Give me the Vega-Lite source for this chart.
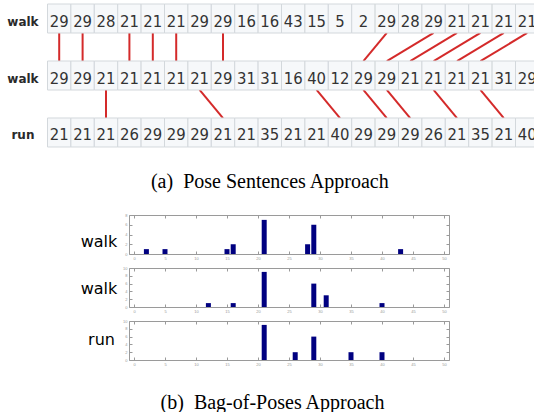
{
  "$schema": "https://vega.github.io/schema/vega-lite/v6.json",
  "padding": 0,
  "background": "white",
  "bounds": "flush",
  "spacing": 14,
  "config": {"view": {"stroke": null}, "axis": {"grid": false}},
  "datasets": {
    "cells": [
      {"row":0,"col":0,"v":29},{"row":0,"col":1,"v":29},{"row":0,"col":2,"v":28},{"row":0,"col":3,"v":21},{"row":0,"col":4,"v":21},{"row":0,"col":5,"v":21},{"row":0,"col":6,"v":29},{"row":0,"col":7,"v":29},{"row":0,"col":8,"v":16},{"row":0,"col":9,"v":16},{"row":0,"col":10,"v":43},{"row":0,"col":11,"v":15},{"row":0,"col":12,"v":5},{"row":0,"col":13,"v":2},{"row":0,"col":14,"v":29},{"row":0,"col":15,"v":28},{"row":0,"col":16,"v":29},{"row":0,"col":17,"v":21},{"row":0,"col":18,"v":21},{"row":0,"col":19,"v":21},{"row":0,"col":20,"v":21},
      {"row":1,"col":0,"v":29},{"row":1,"col":1,"v":29},{"row":1,"col":2,"v":21},{"row":1,"col":3,"v":21},{"row":1,"col":4,"v":21},{"row":1,"col":5,"v":21},{"row":1,"col":6,"v":21},{"row":1,"col":7,"v":29},{"row":1,"col":8,"v":31},{"row":1,"col":9,"v":31},{"row":1,"col":10,"v":16},{"row":1,"col":11,"v":40},{"row":1,"col":12,"v":12},{"row":1,"col":13,"v":29},{"row":1,"col":14,"v":29},{"row":1,"col":15,"v":21},{"row":1,"col":16,"v":21},{"row":1,"col":17,"v":21},{"row":1,"col":18,"v":21},{"row":1,"col":19,"v":31},{"row":1,"col":20,"v":29},
      {"row":2,"col":0,"v":21},{"row":2,"col":1,"v":21},{"row":2,"col":2,"v":21},{"row":2,"col":3,"v":26},{"row":2,"col":4,"v":29},{"row":2,"col":5,"v":29},{"row":2,"col":6,"v":29},{"row":2,"col":7,"v":21},{"row":2,"col":8,"v":21},{"row":2,"col":9,"v":35},{"row":2,"col":10,"v":21},{"row":2,"col":11,"v":21},{"row":2,"col":12,"v":40},{"row":2,"col":13,"v":29},{"row":2,"col":14,"v":29},{"row":2,"col":15,"v":29},{"row":2,"col":16,"v":26},{"row":2,"col":17,"v":21},{"row":2,"col":18,"v":35},{"row":2,"col":19,"v":21},{"row":2,"col":20,"v":40}
    ],
    "links": [
      {"gap":0,"from":0,"to":0},{"gap":0,"from":1,"to":1},{"gap":0,"from":3,"to":3},{"gap":0,"from":4,"to":4},{"gap":0,"from":5,"to":5},{"gap":0,"from":7,"to":7},{"gap":0,"from":14,"to":13},{"gap":0,"from":16,"to":14},{"gap":0,"from":17,"to":15},{"gap":0,"from":18,"to":16},{"gap":0,"from":19,"to":17},{"gap":0,"from":20,"to":18},
      {"gap":1,"from":2,"to":2},{"gap":1,"from":6,"to":7},{"gap":1,"from":11,"to":12},{"gap":1,"from":13,"to":14},{"gap":1,"from":14,"to":15},{"gap":1,"from":16,"to":17},{"gap":1,"from":18,"to":19}
    ],
    "labels": [{"row":0,"name":"walk"},{"row":1,"name":"walk"},{"row":2,"name":"run"}],
    "caption": [{"text":"(a)\u2002Pose Sentences Approach"}]
  },
  "vconcat": [
    {
      "width": 534,
      "height": 201,
      "layer": [
        {
          "data": {"name": "links"},
          "transform": [{"filter": "datum.gap == 0"}],
          "mark": {"type": "rule", "color": "#d42a2a", "strokeWidth": 2},
          "encoding": {
            "x": {"field": "from", "type": "quantitative", "scale": {"domain": [-2.53, 20.29], "nice": false, "zero": false}, "axis": null},
            "x2": {"field": "to"},
            "y": {"datum": 0.254, "type": "quantitative", "scale": {"domain": [-0.3246, 3.2018], "reverse": true, "nice": false, "zero": false}, "axis": null},
            "y2": {"datum": 0.746}
          }
        },
        {
          "data": {"name": "links"},
          "transform": [{"filter": "datum.gap == 1"}],
          "mark": {"type": "rule", "color": "#d42a2a", "strokeWidth": 2},
          "encoding": {
            "x": {"field": "from", "type": "quantitative", "axis": null},
            "x2": {"field": "to"},
            "y": {"datum": 1.254, "type": "quantitative", "axis": null},
            "y2": {"datum": 1.746}
          }
        },
        {
          "data": {"name": "cells"},
          "mark": {"type": "rect", "width": 23.4, "height": 29, "fill": "#f6f8fa", "stroke": "#d3d8dc", "strokeWidth": 1, "clip": true},
          "encoding": {
            "x": {"field": "col", "type": "quantitative", "axis": null},
            "y": {"field": "row", "type": "quantitative", "axis": null}
          }
        },
        {
          "data": {"name": "cells"},
          "mark": {"type": "text", "font": "Liberation Sans Narrow, DejaVu Sans Condensed, sans-serif", "fontSize": 16.5, "color": "#333333", "baseline": "middle", "align": "center", "dy": 3, "clip": true},
          "encoding": {
            "x": {"field": "col", "type": "quantitative", "axis": null},
            "y": {"field": "row", "type": "quantitative", "axis": null},
            "text": {"field": "v"}
          }
        },
        {
          "data": {"name": "labels"},
          "mark": {"type": "text", "font": "DejaVu Sans", "fontSize": 12, "fontWeight": "bold", "color": "#2a2a2a", "baseline": "middle", "align": "center", "dy": 3},
          "encoding": {
            "x": {"datum": -1.55, "type": "quantitative"},
            "y": {"field": "row", "type": "quantitative"},
            "text": {"field": "name"}
          }
        },
        {
          "data": {"name": "caption"},
          "mark": {"type": "text", "font": "Liberation Serif", "fontSize": 20, "color": "#000000", "baseline": "alphabetic", "align": "center"},
          "encoding": {
            "x": {"datum": 9.0, "type": "quantitative"},
            "y": {"datum": 2.979, "type": "quantitative"},
            "text": {"field": "text"}
          }
        }
      ]
    },
    {
      "width": 534,
      "height": 39,
      "data": {"name": "cells"},
      "transform": [{"filter": "datum.row == 0"}, {"aggregate": [{"op": "count", "as": "n"}], "groupby": ["v"]}],
      "layer": [
        {
          "mark": {"type": "bar", "color": "#000080", "size": 5},
          "encoding": {
            "x": {"field": "v", "type": "quantitative", "scale": {"domain": [0, 50], "range": [129, 449], "nice": false, "zero": false},
                  "axis": {"orient": "bottom", "values": [0,5,10,15,20,25,30,35,40,45,50], "tickSize": -3, "domainColor": "#9a9a9a", "tickColor": "#9a9a9a", "labelFontSize": 4, "labelColor": "#999999", "labelPadding": 5, "title": null}},
            "y": {"field": "n", "type": "quantitative", "scale": {"domain": [0, 8], "nice": false},
                  "axis": {"orient": "left", "offset": -129, "values": [0,2,4,6,8], "tickSize": -3, "domainColor": "#9a9a9a", "tickColor": "#9a9a9a", "labelFontSize": 4, "labelColor": "#999999", "labelPadding": 5,
                           "title": "walk", "titleAngle": 0, "titleX": -30.5, "titleY": 31.7, "titleAlign": "center", "titleBaseline": "alphabetic", "titleFont": "DejaVu Sans", "titleFontSize": 16, "titleFontWeight": "normal", "titleColor": "#000000"}}
          }
        },
        {
          "mark": {"type": "bar", "opacity": 0, "size": 5},
          "encoding": {
            "x": {"field": "v", "type": "quantitative", "axis": {"orient": "top", "values": [0,5,10,15,20,25,30,35,40,45,50], "labels": false, "tickSize": -3, "domainColor": "#9a9a9a", "tickColor": "#9a9a9a", "title": null}},
            "y": {"field": "n", "type": "quantitative", "axis": {"orient": "right", "offset": -85, "values": [0,2,4,6,8], "labels": false, "tickSize": -3, "domainColor": "#9a9a9a", "tickColor": "#9a9a9a", "title": null}}
          }
        }
      ]
    },
    {
      "width": 534,
      "height": 39,
      "data": {"name": "cells"},
      "transform": [{"filter": "datum.row == 1"}, {"aggregate": [{"op": "count", "as": "n"}], "groupby": ["v"]}],
      "layer": [
        {
          "mark": {"type": "bar", "color": "#000080", "size": 5},
          "encoding": {
            "x": {"field": "v", "type": "quantitative", "scale": {"domain": [0, 50], "range": [129, 449], "nice": false, "zero": false},
                  "axis": {"orient": "bottom", "values": [0,5,10,15,20,25,30,35,40,45,50], "tickSize": -3, "domainColor": "#9a9a9a", "tickColor": "#9a9a9a", "labelFontSize": 4, "labelColor": "#999999", "labelPadding": 5, "title": null}},
            "y": {"field": "n", "type": "quantitative", "scale": {"domain": [0, 10], "nice": false},
                  "axis": {"orient": "left", "offset": -129, "values": [0,2,4,6,8,10], "tickSize": -3, "domainColor": "#9a9a9a", "tickColor": "#9a9a9a", "labelFontSize": 4, "labelColor": "#999999", "labelPadding": 5,
                           "title": "walk", "titleAngle": 0, "titleX": -30.5, "titleY": 25, "titleAlign": "center", "titleBaseline": "alphabetic", "titleFont": "DejaVu Sans", "titleFontSize": 16, "titleFontWeight": "normal", "titleColor": "#000000"}}
          }
        },
        {
          "mark": {"type": "bar", "opacity": 0, "size": 5},
          "encoding": {
            "x": {"field": "v", "type": "quantitative", "axis": {"orient": "top", "values": [0,5,10,15,20,25,30,35,40,45,50], "labels": false, "tickSize": -3, "domainColor": "#9a9a9a", "tickColor": "#9a9a9a", "title": null}},
            "y": {"field": "n", "type": "quantitative", "axis": {"orient": "right", "offset": -85, "values": [0,2,4,6,8,10], "labels": false, "tickSize": -3, "domainColor": "#9a9a9a", "tickColor": "#9a9a9a", "title": null}}
          }
        }
      ]
    },
    {
      "width": 534,
      "height": 39,
      "data": {"name": "cells"},
      "transform": [{"filter": "datum.row == 2"}, {"aggregate": [{"op": "count", "as": "n"}], "groupby": ["v"]}],
      "layer": [
        {
          "mark": {"type": "bar", "color": "#000080", "size": 5},
          "encoding": {
            "x": {"field": "v", "type": "quantitative", "scale": {"domain": [0, 50], "range": [129, 449], "nice": false, "zero": false},
                  "axis": {"orient": "bottom", "values": [0,5,10,15,20,25,30,35,40,45,50], "tickSize": -3, "domainColor": "#9a9a9a", "tickColor": "#9a9a9a", "labelFontSize": 4, "labelColor": "#999999", "labelPadding": 5,
                           "title": "(b)\u2002Bag-of-Poses Approach", "titleX": 272, "titleY": 48, "titleAlign": "center", "titleBaseline": "alphabetic", "titleFont": "Liberation Serif", "titleFontSize": 20, "titleFontWeight": "normal", "titleColor": "#000000"}},
            "y": {"field": "n", "type": "quantitative", "scale": {"domain": [0, 10], "nice": false},
                  "axis": {"orient": "left", "offset": -129, "values": [0,2,4,6,8,10], "tickSize": -3, "domainColor": "#9a9a9a", "tickColor": "#9a9a9a", "labelFontSize": 4, "labelColor": "#999999", "labelPadding": 5,
                           "title": "run", "titleAngle": 0, "titleX": -28, "titleY": 23.5, "titleAlign": "center", "titleBaseline": "alphabetic", "titleFont": "DejaVu Sans", "titleFontSize": 16, "titleFontWeight": "normal", "titleColor": "#000000"}}
          }
        },
        {
          "mark": {"type": "bar", "opacity": 0, "size": 5},
          "encoding": {
            "x": {"field": "v", "type": "quantitative", "axis": {"orient": "top", "values": [0,5,10,15,20,25,30,35,40,45,50], "labels": false, "tickSize": -3, "domainColor": "#9a9a9a", "tickColor": "#9a9a9a", "title": null}},
            "y": {"field": "n", "type": "quantitative", "axis": {"orient": "right", "offset": -85, "values": [0,2,4,6,8,10], "labels": false, "tickSize": -3, "domainColor": "#9a9a9a", "tickColor": "#9a9a9a", "title": null}}
          }
        }
      ]
    }
  ]
}
